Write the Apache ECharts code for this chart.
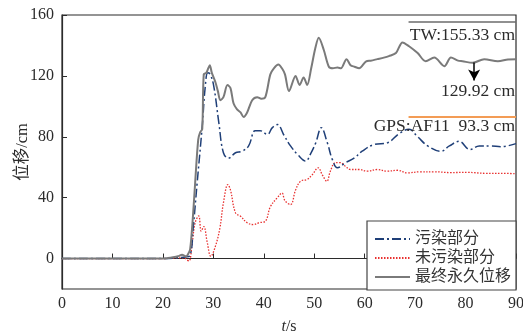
<!DOCTYPE html>
<html>
<head>
<meta charset="utf-8">
<script src="https://cdn.jsdelivr.net/npm/echarts@6/dist/echarts.min.js"></script>
<style>
  html, body { margin: 0; padding: 0; background: #fff; }
  #chart { width: 523px; height: 334px; }
</style>
</head>
<body>
<div id="chart"></div>
<script>
// Time axis (s) and displacement (cm) for each record
const seriesNames = ['污染部分', '未污染部分', '最终永久位移'];

const tPolluted = [0, 10, 20, 23, 24.5, 25.4, 26.0, 26.8, 27.8, 28.4, 28.9, 29.4, 30.1, 31.1, 32, 33, 34.4, 35.7, 37, 38.3, 39.3, 40.7, 41.7, 42.7, 44, 45.3, 46.8, 48.3, 49.3, 50.3, 51.4, 52.6, 53.6, 54.6, 56.2, 57.9, 59.5, 61.9, 64.5, 66.8, 68.8, 70.5, 72.5, 75.1, 76.8, 78.7, 80.9, 82.7, 85, 87, 90];
const vPolluted = [0, 0, 0, 0.5, 1, 2, 20, 50, 87, 113, 122, 121, 113, 89, 69.5, 66, 69.5, 70.5, 74, 84, 84, 81.5, 86, 88, 81, 74, 68, 64, 69, 76, 86, 76, 65, 59.6, 63, 66, 70.5, 75, 76, 82, 85, 80, 74, 70.5, 74, 77, 71.6, 74, 74, 73.5, 75.5];

const tClean = [0, 10, 20, 23, 24.2, 24.8, 25.2, 25.8, 26.4, 27.1, 27.6, 28.1, 28.8, 29.5, 30.4, 31.3, 32, 32.9, 33.4, 34.4, 35.4, 36.7, 38, 39, 40.3, 41.3, 42.7, 43.6, 44.2, 45.3, 46.3, 47.3, 48.6, 49.6, 50.8, 51.6, 52.5, 53.2, 54.2, 55.2, 56.2, 57.2, 58.9, 60.5, 62.5, 64.5, 66.5, 68.5, 71, 73.8, 77, 80.4, 84, 87, 90];
const vClean = [0, 0, 0, 0.5, 0.5, -1, -1.5, 10, 23.6, 28, 18, 21, 10.5, 1.5, 8, 20, 36.6, 48.6, 45, 30, 27.8, 23.5, 22.3, 23.5, 24.5, 34, 40, 43, 38, 35.5, 45, 50.8, 52, 55, 59.6, 55, 50.8, 57.4, 63, 63, 60.5, 58.5, 58.5, 57.4, 58.5, 57.4, 58, 56.3, 57, 57, 56.5, 56.6, 56, 56, 55.7];

const tFinal = [0, 10, 20, 21, 22, 23, 23.8, 24.6, 25.0, 25.4, 25.9, 26.4, 27.0, 27.4, 27.8, 28.1, 28.6, 29.0, 29.3, 29.7, 30.4, 30.9, 31.4, 32, 32.8, 33.4, 34, 34.7, 35.4, 36, 36.7, 37.7, 38.7, 39.5, 40.3, 41.3, 42.0, 42.9, 43.6, 44.2, 45.0, 46.3, 47.1, 47.9, 48.6, 49.4, 50.2, 50.9, 51.9, 52.9, 53.7, 54.6, 55.3, 56.4, 57.2, 58.0, 58.9, 60.3, 61.2, 62.5, 63.8, 64.8, 66.2, 67.5, 68.8, 70.5, 72.1, 73.8, 75.8, 77.1, 78.5, 79.4, 81.4, 83.7, 86.4, 88.4, 90];
const vFinal = [0, 0, 0, 0.3, 0.8, 1.5, 2.5, 1.5, 3, 6, 25, 50, 78, 83, 85, 121, 122, 125, 127, 122, 116, 110, 104, 106, 114, 112, 102, 98, 96, 93, 96, 104, 106, 105, 106, 121, 125, 127.5, 125, 121, 110, 120, 114, 119, 114, 125, 138, 145, 137, 126, 125, 125.5, 125, 131, 127, 126, 125, 129.6, 130, 131, 132, 133, 135, 142, 139.5, 135, 129.6, 132, 126.4, 132, 130, 129.6, 128.6, 131, 129.6, 130.8, 131];

// Reference levels
const twValue = 155.33;
const gpsValue = 93.3;
const finalValue = 129.92;

const yTicks = [0, 40, 80, 120, 160];

const zip = (ts, vs) => ts.map((t, i) => [t, vs[i]]);

const serif = '"Liberation Serif", "Times New Roman", serif';
const cjk = '"Liberation Serif", "Noto Sans CJK SC", serif';
const ink = '#2b2b2b';

const chart = echarts.init(document.getElementById('chart'), null, { renderer: 'canvas' });

chart.setOption({
  animation: false,
  backgroundColor: '#fff',
  grid: {
    left: 62, right: 7, top: 15, bottom: 45,
    containLabel: false, outerBoundsMode: 'none',
    show: true, borderColor: ink, borderWidth: 1.2, backgroundColor: 'transparent'
  },
  legend: {
    data: seriesNames,
    orient: 'vertical',
    right: 7, bottom: 44,
    backgroundColor: '#fff',
    borderColor: '#444', borderWidth: 1.2, borderRadius: 0,
    padding: [10, 5, 5, 7],
    itemWidth: 35, itemHeight: 14, itemGap: 3,
    itemStyle: { opacity: 0 },
    textStyle: { fontFamily: cjk, fontSize: 16, color: '#333' }
  },
  xAxis: {
    type: 'value', min: 0, max: 90, interval: 10,
    name: '{i|t}/s', nameLocation: 'middle', nameGap: 30, nameMoveOverlap: false,
    nameTextStyle: {
      fontFamily: serif, fontSize: 16, color: ink,
      rich: { i: { fontFamily: serif, fontStyle: 'italic', fontSize: 16, color: ink } }
    },
    axisLine: { lineStyle: { color: ink, width: 1.2 } },
    axisTick: { inside: true, length: 5, lineStyle: { color: ink } },
    axisLabel: { fontFamily: serif, fontSize: 16, color: ink, margin: 7 },
    splitLine: { show: false }
  },
  yAxis: {
    type: 'value', min: -20, max: 160,
    name: '位移/cm', nameLocation: 'middle', nameGap: 31, nameMoveOverlap: false,
    nameTextStyle: { fontFamily: cjk, fontSize: 16.5, color: ink },
    axisLine: { lineStyle: { color: ink, width: 1.2 } },
    axisTick: { inside: true, length: 5, lineStyle: { color: ink }, customValues: yTicks },
    axisLabel: { fontFamily: serif, fontSize: 16, color: ink, margin: 8, customValues: yTicks },
    splitLine: { show: false }
  },
  series: [
    {
      name: seriesNames[0], type: 'line', data: zip(tPolluted, vPolluted),
      showSymbol: false, symbol: 'none', smooth: 0.4, z: 3,
      lineStyle: { color: '#1f3f78', width: 1.5, type: [9, 3, 2, 3] },
      itemStyle: { color: '#1f3f78' }
    },
    {
      name: seriesNames[1], type: 'line', data: zip(tClean, vClean),
      showSymbol: false, symbol: 'none', smooth: 0.4, z: 2,
      lineStyle: { color: '#e8302f', width: 1.3, type: [1.5, 1.5] },
      itemStyle: { color: '#e8302f' }
    },
    {
      name: seriesNames[2], type: 'line', data: zip(tFinal, vFinal),
      showSymbol: false, symbol: 'none', smooth: 0.3, z: 4,
      lineStyle: { color: '#7a7a7a', width: 2 },
      itemStyle: { color: '#7a7a7a' },
      markLine: {
        silent: true, symbol: ['none', 'none'], animation: false,
        label: { fontFamily: serif, fontSize: 17.5, color: ink },
        data: [
          [
            { coord: [68.7, twValue], lineStyle: { color: '#6b6b6b', width: 1.6, type: 'solid' },
              label: { show: true, position: 'insideEndBottom', distance: [1, 4], formatter: 'TW:' + twValue + ' cm' } },
            { coord: [90, twValue] }
          ],
          [
            { coord: [68.7, gpsValue], lineStyle: { color: '#f39c55', width: 1.8, type: 'solid' },
              label: { show: true, position: 'insideEndBottom', distance: [1, 1], formatter: 'GPS:AF11  ' + gpsValue + ' cm' } },
            { coord: [90, gpsValue] }
          ],
          [
            { coord: [81.7, 128.8], symbol: 'none', lineStyle: { color: '#000', width: 1.5, type: 'solid' },
              label: { show: false } },
            { coord: [81.7, 117], symbol: 'arrow', symbolSize: [9, 11] }
          ]
        ]
      },
      markPoint: {
        silent: true, animation: false,
        symbol: 'circle', symbolSize: 1,
        itemStyle: { color: 'rgba(0,0,0,0)' },
        label: { show: true, position: 'left', distance: 0, fontFamily: serif, fontSize: 17.5, color: ink,
          formatter: finalValue + ' cm' },
        data: [{ coord: [89.9, 109.5] }]
      }
    }
  ]
});
</script>
</body>
</html>
